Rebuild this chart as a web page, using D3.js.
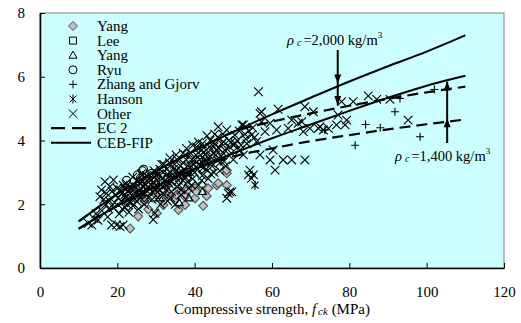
<!DOCTYPE html>
<html>
<head>
<meta charset="utf-8">
</head>
<body style="margin:0; background:#fff">
<svg width="521" height="323"></svg>
<script src="https://d3js.org/d3.v7.min.js"></script>
<script>
// data: [fck (MPa), ft (MPa)]
const yangDiamond = [[23.3,1.24],[25.4,1.62],[28.0,1.84],[30.2,1.72],[31.9,1.98],[33.2,2.34],[34.9,2.13],[35.3,2.29],
  [35.8,1.82],[36.2,2.39],[37.5,1.98],[37.5,2.24],[38.3,2.45],[40.1,2.19],[40.1,2.5],[40.5,2.39],[42.2,1.95],[43.1,2.5],
  [43.1,2.26],[43.5,2.5],[45.7,2.6],[46.1,2.66],[48.3,2.6],[48.3,2.97],[48.3,3.07],[27,2.1],[30,2.3],[33,2.6]];
const lee = [[28,2.4],[33,2.8],[38,3.0],[26,2.3]];
const yangTri = [[31,2.2],[36,2.05],[42,2.4],[38.5,2.2]];
const ryu = [[22.4,2.75],[25.2,2.92],[26.5,3.05],[26,2.82],[28.9,2.97],[26.8,3.1]];
const zhang = [[73.7,4.33],[81.5,3.85],[84.2,4.5],[88.0,4.4],[91.8,4.9],[93.1,5.32],[98.3,4.12],[102,5.6]];
const hanson = [[55.6,2.6],[22,2.2],[30,2.5],[36,2.9],[42,3.3]];
const other = [[12.5,1.4],[13.4,1.35],[14,1.55],[14.5,1.7],[15,1.5],[15.5,2.24],[15.9,2.45],[16,1.8],[16.8,2.71],[17,2.0],
  [17.2,2.34],[17.5,1.6],[18,2.1],[18.1,2.55],[18.5,1.35],[19,2.76],[19,1.9],[19.5,2.3],[19.8,1.35],[20,2.5],[20.5,1.7],
  [20.7,1.3],[21,2.1],[21.5,1.35],[21.5,2.6],[22,1.9],[22,2.3],[22.5,2.0],[23,2.45],[23,1.75],[23.5,2.2],[24,2.6],[24,1.95],
  [24.5,2.35],[25,2.1],[25,2.75],[25.5,1.85],[26,2.5],[26,2.2],[26.5,2.7],[27,2.35],[27,2.0],[27.5,2.9],[28,2.55],[28,2.2],
  [28.5,2.75],[29,2.4],[29.3,1.52],[29.7,1.72],[30,2.9],[30,2.6],[30.5,2.2],[31,3.1],[31,2.45],[31.5,2.8],[32,2.3],[32,3.25],
  [32.5,2.6],[33,2.95],[33,2.1],[33.5,3.3],[34,2.7],[34,2.4],[34.5,3.1],[35,2.85],[35,2.0],[35.5,3.4],[36,2.6],[36,3.0],
  [36.5,2.3],[37,3.3],[37,2.75],[37.5,3.55],[37.9,3.75],[38,2.95],[38.5,2.5],[39,3.2],[39,3.6],[39.5,2.8],[40,3.4],[40,3.0],
  [40.5,3.8],[41,2.6],[41,3.25],[41.5,3.55],[42,2.9],[42,3.9],[42.5,3.4],[43,3.1],[43,3.7],[43.5,2.8],[44,3.5],[44,4.0],
  [44.5,3.2],[45,3.8],[45,3.0],[45.5,3.55],[46,4.1],[46.1,4.43],[46.5,3.3],[47,3.9],[47.4,3.96],[47.5,3.6],[48,3.2],
  [48.3,4.33],[48.3,2.19],[48.7,2.34],[49,3.8],[49.1,2.39],[49.6,2.39],[50,3.86],[50,3.4],[50.4,4.17],[51,4.0],[51.7,3.7],
  [52.2,4.49],[52.6,4.49],[52.6,3.55],[53,4.2],[53.5,3.9],[53.9,2.92],[54.3,3.07],[54.7,2.81],[54.7,4.17],[55,4.4],[55.2,2.92],
  [56,3.96],[56.5,5.53],[56.9,4.85],[56.9,3.55],[57.3,4.9],[57.3,4.59],[58.2,4.28],[59.5,4.54],[59.5,3.39],[60.3,3.7],
  [60.8,3.07],[61.2,4.33],[61.6,4.98],[62.9,3.39],[64.2,4.38],[65.1,4.64],[65.1,3.39],[66.8,4.54],[67.7,4.59],[68.1,4.28],
  [68.5,5.06],[68.5,3.39],[69.8,4.38],[70.7,4.9],[72.0,4.38],[72.4,4.43],[73.3,4.33],[74.6,4.38],[76.7,4.49],[77.1,4.8],
  [78.0,5.22],[78.9,4.49],[79.3,4.64],[81.0,5.22],[84.9,5.4],[87.1,5.29],[90.5,5.29],[95.2,4.64],
  // dense core of the cloud
  [16.5,2.15],[17.8,1.85],[18.6,2.4],[19.3,2.05],[20.2,2.2],[20.8,2.45],[21.3,1.85],[21.8,2.5],[22.3,2.65],[22.8,2.15],
  [23.3,2.35],[23.8,2.5],[24.3,2.2],[24.8,2.55],[25.3,2.4],[25.8,2.65],[26.3,2.35],[26.8,2.55],[27.3,2.6],[27.8,2.4],
  [28.3,2.8],[28.8,2.6],[29.3,2.7],[29.8,2.45],[30.3,2.75],[30.8,2.95],[31.3,2.6],[31.8,3.0],[32.3,2.75],[32.8,3.1],
  [33.3,2.85],[33.8,3.0],[34.3,2.85],[34.8,3.25],[35.3,3.05],[35.8,2.75],[36.3,3.2],[36.8,3.0],[37.3,3.1],[37.8,3.4],
  [38.3,3.2],[38.8,3.0],[39.3,3.4],[39.8,3.25],[40.3,3.55],[40.8,3.1],[41.3,3.4],[41.8,3.7],[42.3,3.15],[42.8,3.55],
  [43.3,3.35],[43.8,3.8],[44.3,3.3],[44.8,3.6],[45.3,3.9],[45.8,3.4],[46.3,3.75],[46.8,3.5],[47.3,4.2],[47.8,3.7],
  [48.8,4.0],[49.5,3.6],[50.5,3.9],[51.5,4.3],[52,3.85],[53.2,4.05],[54,4.3],[55.5,4.1],[24,2.85],[26.2,2.95],
  [29.5,3.05],[31.5,3.25],[33.6,3.45],[35.2,3.55],[37,3.6],[39.5,3.85],[41,3.95],[43.2,4.15],[45.2,4.2],[29,2.15],
  [31.2,2.0],[33.8,2.2],[36.5,2.45],[39.2,2.6],[41.8,2.75],[44.2,2.95],[46.5,3.05],[38.2,2.7],[35.5,2.55],[32.6,2.45],
  [21.2,2.35],[23.6,2.05],[25.6,2.3],[27.6,2.75],[29.6,2.85],[31.6,2.55],[33.4,2.65],[35.6,2.9],[37.6,2.85],[39.6,3.05],
  [41.6,3.2],[43.6,3.45],[45.6,3.7],[47.6,3.35],[49.4,3.95]];

// design curves
const ceb2000 = [[10,1.46],[20,2.32],[30,3.04],[40,3.68],[50,4.27],[60,4.82],[70,5.34],[80,5.85],[90,6.33],[100,6.79],[110,7.3]];
const ceb1400 = [[10,1.23],[20,1.95],[30,2.56],[40,3.1],[50,3.6],[60,4.07],[70,4.5],[80,4.93],[90,5.34],[100,5.72],[110,6.03]];
const ec2000 = [[10,1.46],[20,2.32],[30,3.04],[40,3.68],[50,4.27],[60,4.59],[70,4.85],[80,5.09],[90,5.31],[100,5.51],[110,5.69]];
const ec1400 = [[10,1.23],[20,1.95],[30,2.56],[40,3.1],[50,3.5],[60,3.75],[70,3.98],[80,4.17],[90,4.35],[100,4.51],[110,4.66]];

const xTicks = [0, 20, 40, 60, 80, 100, 120];
const yTicks = [0, 2, 4, 6, 8];

const FONT = '"Liberation Serif"';
const svg = d3.select('svg');
const x = d3.scaleLinear().domain([0, 120]).range([40, 504]);
const y = d3.scaleLinear().domain([0, 8]).range([268, 13]);

svg.append('rect')
  .attr('x', 40).attr('y', 13).attr('width', 464).attr('height', 255)
  .attr('fill', '#ccffff').attr('stroke', '#808080').attr('stroke-width', 1);

// axes
const xAxis = svg.append('g').attr('transform', 'translate(0,268)')
  .call(d3.axisBottom(x).tickValues(xTicks).tickSizeInner(-5).tickSizeOuter(0).tickPadding(18));
const yAxis = svg.append('g').attr('transform', 'translate(40,0)')
  .call(d3.axisLeft(y).tickValues(yTicks).tickSizeInner(-5).tickSizeOuter(0).tickPadding(15));
[xAxis, yAxis].forEach(g => {
  g.attr('font-family', null).attr('font-size', null);
  g.select('.domain').attr('stroke', '#000').attr('stroke-width', 1.6);
  g.selectAll('.tick line').attr('stroke', '#000');
  g.selectAll('.tick text').style('font-family', FONT).style('font-size', '15px').attr('fill', '#000');
});

// marker shapes
const shapes = {
  diamond: 'M0,-4.5L4.5,0L0,4.5L-4.5,0Z',
  square: 'M-3.5,-3.5H3.5V3.5H-3.5Z',
  triangle: 'M0,-4.2L4,3L-4,3Z',
  circle: 'M4,0A4,4 0 1 1 -4,0A4,4 0 1 1 4,0Z',
  plus: 'M-4,0H4M0,-4V4',
  asterisk: 'M-3.5,-3.5L3.5,3.5M-3.5,3.5L3.5,-3.5M0,-4.5V4.5',
  cross: 'M-4.3,-4.3L4.3,4.3M-4.3,4.3L4.3,-4.3'
};
const series = [
  { name: 'Yang', data: yangDiamond, shape: 'diamond', fill: '#c0c0c0', stroke: '#505050' },
  { name: 'Lee', data: lee, shape: 'square', fill: 'none', stroke: '#000' },
  { name: 'Yang', data: yangTri, shape: 'triangle', fill: 'none', stroke: '#000' },
  { name: 'Ryu', data: ryu, shape: 'circle', fill: 'none', stroke: '#000' },
  { name: 'Zhang and Gjorv', data: zhang, shape: 'plus', fill: 'none', stroke: '#000' },
  { name: 'Hanson', data: hanson, shape: 'asterisk', fill: 'none', stroke: '#000' },
  { name: 'Other', data: other, shape: 'cross', fill: 'none', stroke: '#000' }
];

const plot = svg.append('g');
series.forEach(s => {
  plot.append('g').selectAll('path').data(s.data).enter().append('path')
    .attr('transform', d => `translate(${x(d[0])},${y(d[1])})`)
    .attr('d', shapes[s.shape])
    .attr('fill', s.fill).attr('stroke', s.stroke).attr('stroke-width', 1.1);
});

// design lines
const line = d3.line().x(d => x(d[0])).y(d => y(d[1])).curve(d3.curveMonotoneX);
[ec2000, ec1400].forEach(d => plot.append('path').attr('d', line(d))
  .attr('fill', 'none').attr('stroke', '#000').attr('stroke-width', 2.2).attr('stroke-dasharray', '11,6'));
[ceb2000, ceb1400].forEach(d => plot.append('path').attr('d', line(d))
  .attr('fill', 'none').attr('stroke', '#000').attr('stroke-width', 2));

// arrows
function head(px, py, dir) {
  // dir = 1 pointing down, -1 pointing up
  svg.append('path')
    .attr('d', `M${px},${py}L${px - 3.5},${py - dir * 9}L${px + 3.5},${py - dir * 9}Z`)
    .attr('fill', '#000');
}
const a1 = x(77);
svg.append('line').attr('x1', a1).attr('x2', a1).attr('y1', 50).attr('y2', y(5.11))
  .attr('stroke', '#000').attr('stroke-width', 2);
head(a1, y(5.79), 1);
head(a1, y(5.11), 1);
const a2 = x(105.3);
svg.append('line').attr('x1', a2).attr('x2', a2).attr('y1', 143).attr('y2', y(5.85))
  .attr('stroke', '#000').attr('stroke-width', 2);
head(a2, y(5.85), -1);
head(a2, y(4.7), -1);

function rhoLabel(px, py, val) {
  const t = svg.append('text').attr('x', px).attr('y', py).style('font-family', FONT).style('font-size', '14.5px');
  t.append('tspan').style('font-style', 'italic').text('\u03C1');
  t.append('tspan').style('font-style', 'italic').style('font-size', '10px').attr('dx', 3).attr('dy', 1).text('c');
  t.append('tspan').attr('dx', 2).attr('dy', -1).text('=' + val + ' kg/m');
  t.append('tspan').style('font-size', '9px').attr('dy', -7).text('3');
}
rhoLabel(287, 45, '2,000');
rhoLabel(395, 161, '1,400');

// legend
const leg = svg.append('g');
series.forEach((s, i) => {
  const cy = 26 + i * 14.6;
  leg.append('path').attr('transform', `translate(73,${cy})`).attr('d', shapes[s.shape])
    .attr('fill', s.fill).attr('stroke', s.stroke).attr('stroke-width', 1);
  leg.append('text').attr('x', 97).attr('y', cy + 5).style('font-family', FONT).style('font-size', '15px').text(s.name);
});
const yEc = 26 + 7 * 14.6, yCeb = 26 + 8 * 14.6;
leg.append('line').attr('x1', 51).attr('x2', 91).attr('y1', yEc).attr('y2', yEc)
  .attr('stroke', '#000').attr('stroke-width', 2.2).attr('stroke-dasharray', '14,7');
leg.append('text').attr('x', 97).attr('y', yEc + 5).style('font-family', FONT).style('font-size', '15px').text('EC 2');
leg.append('line').attr('x1', 51).attr('x2', 91).attr('y1', yCeb).attr('y2', yCeb)
  .attr('stroke', '#000').attr('stroke-width', 2);
leg.append('text').attr('x', 97).attr('y', yCeb + 5).style('font-family', FONT).style('font-size', '15px').text('CEB-FIP');

// axis title
const xt = svg.append('text').attr('x', 272).attr('y', 314).attr('text-anchor', 'middle')
  .style('font-family', FONT).style('font-size', '15px');
xt.append('tspan').text('Compressive strength, ');
xt.append('tspan').style('font-style', 'italic').text('f');
xt.append('tspan').style('font-style', 'italic').style('font-size', '11px').attr('dx', 2).attr('dy', 1).text('ck');
xt.append('tspan').attr('dy', -1).text(' (MPa)');
</script>
</body>
</html>
